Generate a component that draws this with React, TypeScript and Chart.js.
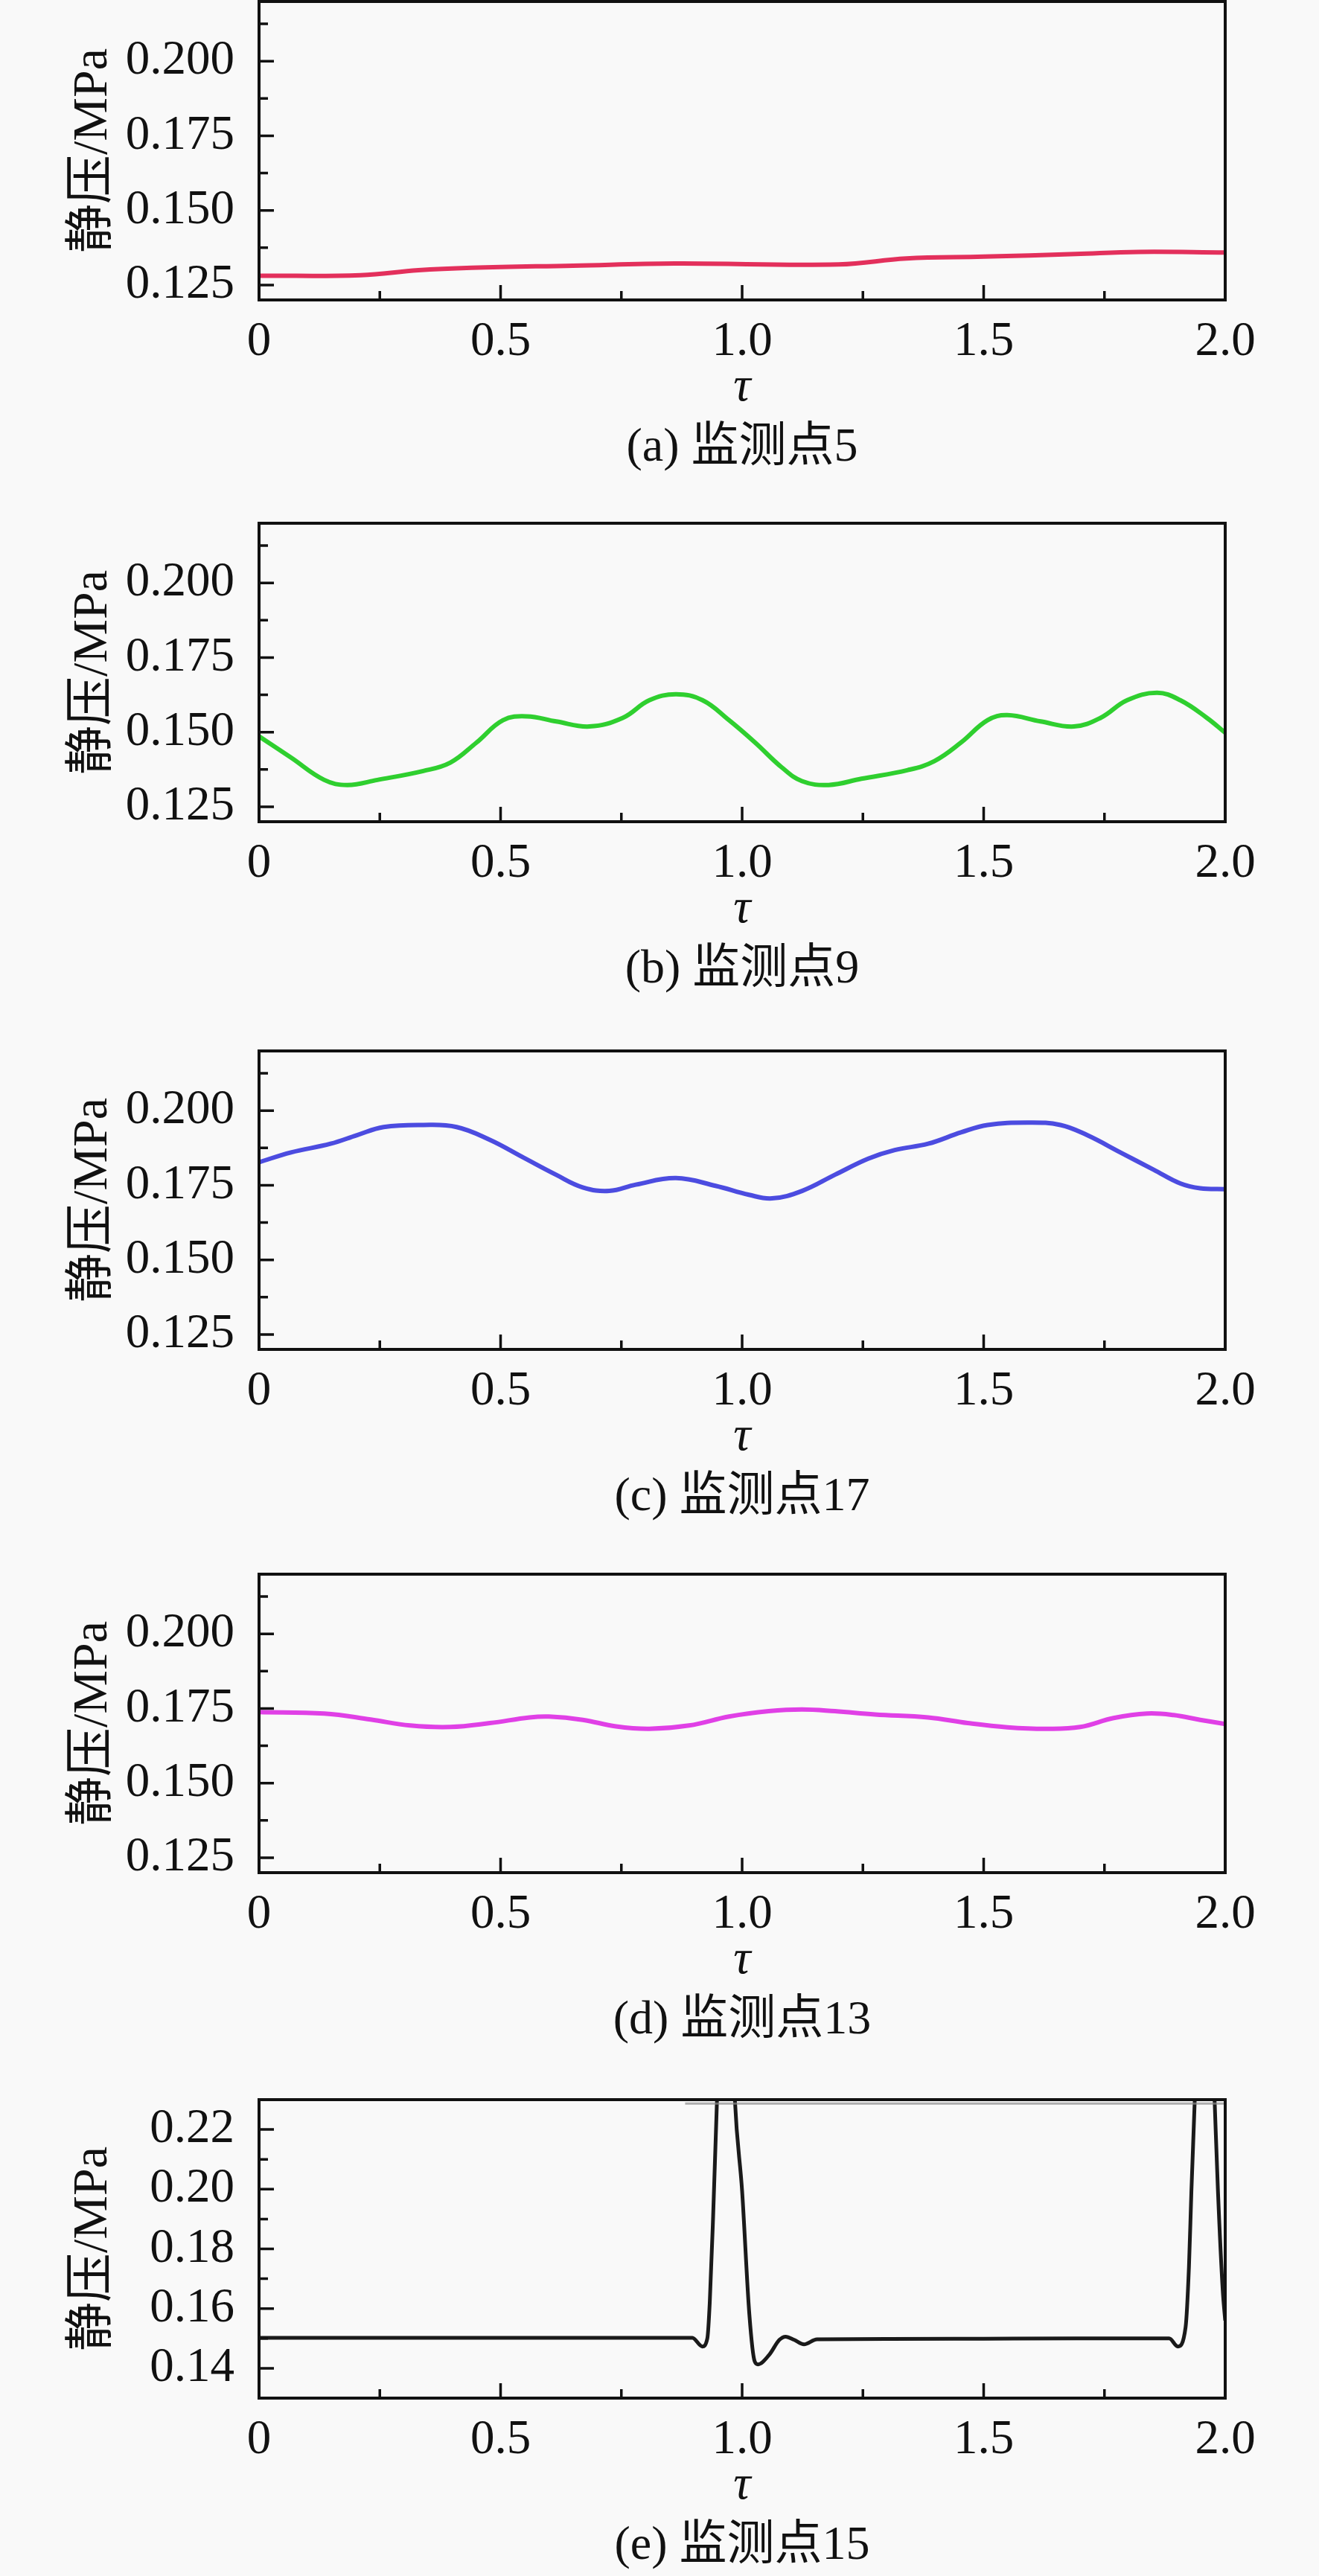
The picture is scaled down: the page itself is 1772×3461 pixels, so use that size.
import { useEffect, useRef } from "react";
import { Chart, registerables } from "chart.js";

Chart.register(...registerables);

// values (tau vs static pressure, MPa)
const tauA = [0, 0.21, 0.33, 0.44, 0.65, 0.86, 1.2, 1.34, 1.5, 1.69, 1.82, 2.0];
const pressA = [0.1281, 0.1283, 0.13, 0.1308, 0.1315, 0.1322, 0.1319, 0.1339, 0.1345, 0.1354, 0.1361, 0.1359];

const tauB = [0, 0.066, 0.135, 0.183, 0.245, 0.34, 0.396, 0.45, 0.505, 0.554, 0.615, 0.684, 0.753, 0.808, 0.863, 0.918, 0.973, 1.027, 1.082, 1.124, 1.179, 1.247, 1.343, 1.398, 1.453, 1.508, 1.549, 1.618, 1.687, 1.742, 1.797, 1.859, 1.907, 1.962, 2.0];
const pressB = [0.1486, 0.1415, 0.134, 0.1323, 0.134, 0.137, 0.1398, 0.1465, 0.154, 0.1553, 0.1536, 0.1519, 0.1548, 0.1607, 0.1627, 0.1607, 0.154, 0.1465, 0.1382, 0.1336, 0.1323, 0.1344, 0.1373, 0.1403, 0.1465, 0.154, 0.1557, 0.1536, 0.1519, 0.1548, 0.1607, 0.1632, 0.1607, 0.1548, 0.1498];

const tauC = [0, 0.066, 0.148, 0.203, 0.258, 0.34, 0.409, 0.478, 0.547, 0.615, 0.67, 0.725, 0.78, 0.863, 0.945, 1.014, 1.062, 1.124, 1.192, 1.261, 1.316, 1.385, 1.453, 1.508, 1.59, 1.659, 1.714, 1.783, 1.852, 1.907, 1.948, 2.0];
const pressC = [0.1827, 0.186, 0.1889, 0.1918, 0.1945, 0.1952, 0.1945, 0.1902, 0.1843, 0.1785, 0.1743, 0.1731, 0.1752, 0.1774, 0.1748, 0.1718, 0.1706, 0.1731, 0.1785, 0.1839, 0.1868, 0.1889, 0.1927, 0.1952, 0.196, 0.1952, 0.1918, 0.186, 0.1802, 0.1756, 0.174, 0.1737];

const tauD = [0, 0.135, 0.231, 0.313, 0.396, 0.478, 0.56, 0.6, 0.67, 0.739, 0.808, 0.89, 0.973, 1.055, 1.124, 1.192, 1.275, 1.385, 1.467, 1.549, 1.632, 1.7, 1.769, 1.838, 1.893, 1.948, 2.0];
const pressD = [0.1738, 0.1733, 0.1713, 0.1693, 0.1688, 0.1701, 0.172, 0.1723, 0.1712, 0.169, 0.1682, 0.1693, 0.1723, 0.1741, 0.1747, 0.1741, 0.173, 0.172, 0.1701, 0.1687, 0.1682, 0.1688, 0.1718, 0.1733, 0.1728, 0.1712, 0.1698];

const tauE = [0, 0.897, 0.9175, 0.928, 0.933, 0.94, 0.948, 0.958, 0.966, 0.976, 0.985, 1.0, 1.015, 1.026, 1.033, 1.056, 1.077, 1.09, 1.108, 1.128, 1.155, 1.3, 1.5, 1.7, 1.884, 1.902, 1.918, 1.925, 1.93, 1.937, 1.948, 1.957, 1.968, 1.978, 1.985, 1.995, 2.0];
const pressE = [0.1502, 0.1502, 0.1473, 0.150, 0.162, 0.191, 0.23, 0.285, 0.292, 0.272, 0.23, 0.1993, 0.158, 0.1423, 0.1413, 0.1445, 0.1495, 0.1506, 0.1495, 0.148, 0.1497, 0.1498, 0.1499, 0.150, 0.150, 0.1473, 0.1538, 0.1742, 0.1993, 0.23, 0.285, 0.292, 0.272, 0.23, 0.1993, 0.1658, 0.156];
// faint grey trace just under the top frame of panel (e)
const tauETop = [0.882, 2.0];
const pressETop = [0.2287, 0.2287];

const xMajor = [0, 0.5, 1.0, 1.5, 2.0];
const xMinor = [0.25, 0.75, 1.25, 1.75];
const yMajorAD = [0.125, 0.15, 0.175, 0.2];
const yMinorAD = [0.1375, 0.1625, 0.1875, 0.2125];
const yMajorE = [0.14, 0.16, 0.18, 0.2, 0.22];
const yMinorE = [0.15, 0.17, 0.19, 0.21];

const SERIF = '"Liberation Serif", "Noto Sans CJK SC", serif';

const frameTicks = {
  id: "frameTicks",
  afterDatasetsDraw(chart: any, _args: any, opts: any) {
    const { ctx, chartArea, scales } = chart;
    const { left, right, top, bottom } = chartArea;
    ctx.save();
    ctx.strokeStyle = "#111";
    ctx.lineWidth = 3.5;
    ctx.beginPath();
    for (const v of opts.xMajor) {
      const px = scales.x.getPixelForValue(v);
      ctx.moveTo(px, bottom);
      ctx.lineTo(px, bottom - 20);
    }
    for (const v of opts.xMinor) {
      const px = scales.x.getPixelForValue(v);
      ctx.moveTo(px, bottom);
      ctx.lineTo(px, bottom - 12);
    }
    for (const v of opts.yMajor) {
      const py = scales.y.getPixelForValue(v);
      ctx.moveTo(left, py);
      ctx.lineTo(left + 20, py);
    }
    for (const v of opts.yMinor) {
      const py = scales.y.getPixelForValue(v);
      ctx.moveTo(left, py);
      ctx.lineTo(left + 12, py);
    }
    ctx.stroke();
    ctx.lineWidth = 4;
    ctx.strokeRect(left, top, right - left, bottom - top);
    ctx.restore();
  },
};

interface Series {
  tau: number[];
  press: number[];
  color: string;
  width: number;
  smooth: "monotone" | "spline";
}

interface PanelProps {
  top: number;
  series: Series[];
  yMin: number;
  yMax: number;
  yMajor: number[];
  yMinor: number[];
  decimals: number;
  caption: string;
}

function Panel({ top, series, yMin, yMax, yMajor, yMinor, decimals, caption }: PanelProps) {
  const canvasRef = useRef<HTMLCanvasElement>(null);

  useEffect(() => {
    const ctx = canvasRef.current?.getContext("2d");
    if (!ctx) return;
    const chart = new Chart(ctx, {
      type: "line",
      data: {
        datasets: series.map((s) => ({
          data: s.tau.map((t, i) => ({ x: t, y: s.press[i] })),
          borderColor: s.color,
          borderWidth: s.width,
          pointRadius: 0,
          cubicInterpolationMode: s.smooth === "monotone" ? "monotone" : "default",
          tension: s.smooth === "monotone" ? 0 : 0.4,
          fill: false,
        })),
      },
      options: {
        animation: false,
        responsive: false,
        layout: { padding: { left: 0, right: 126, top: 2, bottom: 0 } },
        plugins: {
          legend: { display: false },
          tooltip: { enabled: false },
          frameTicks: { xMajor, xMinor, yMajor, yMinor },
        } as any,
        scales: {
          x: {
            type: "linear",
            min: 0,
            max: 2,
            grid: { display: false },
            border: { display: false },
            afterBuildTicks: (s: any) => {
              s.ticks = xMajor.map((value) => ({ value }));
            },
            afterFit: (s: any) => {
              s.height = 297;
              s.paddingLeft = 0;
              s.paddingRight = 0;
            },
            ticks: {
              autoSkip: false,
              maxRotation: 0,
              padding: 10,
              color: "#111",
              font: { family: SERIF, size: 65 },
              callback: (v: any) => (v === 0 ? "0" : Number(v).toFixed(1)),
            },
            title: {
              display: true,
              text: "τ",
              color: "#111",
              font: { family: SERIF, size: 65, style: "italic" },
              padding: { top: 0, bottom: 140 },
            },
          },
          y: {
            type: "linear",
            min: yMin,
            max: yMax,
            grid: { display: false },
            border: { display: false },
            afterBuildTicks: (s: any) => {
              s.ticks = yMajor.map((value) => ({ value }));
            },
            afterFit: (s: any) => {
              s.width = 348;
              s.paddingTop = 0;
              s.paddingBottom = 0;
            },
            ticks: {
              autoSkip: false,
              padding: 25,
              color: "#111",
              font: { family: SERIF, size: 65 },
              callback: (v: any) => Number(v).toFixed(decimals),
            },
            title: {
              display: true,
              text: "静压/MPa",
              color: "#111",
              font: { family: SERIF, size: 66 },
              padding: { top: 86, bottom: 0 },
            },
          },
        },
      },
      plugins: [frameTicks],
    });
    return () => chart.destroy();
  }, [series, yMin, yMax, yMajor, yMinor, decimals]);

  return (
    <div style={{ position: "absolute", left: 0, top: top - 2, width: 1772, height: 700 }}>
      <canvas ref={canvasRef} width={1772} height={700} style={{ width: 1772, height: 700 }} />
      <div
        style={{
          position: "absolute",
          left: 597,
          width: 800,
          top: 566,
          textAlign: "center",
          fontFamily: SERIF,
          fontSize: 64,
          lineHeight: "64px",
          color: "#111",
        }}
      >
        {caption}
      </div>
    </div>
  );
}

const seriesA: Series[] = [{ tau: tauA, press: pressA, color: "#e3305c", width: 6, smooth: "spline" }];
const seriesB: Series[] = [{ tau: tauB, press: pressB, color: "#2fcf2f", width: 6, smooth: "spline" }];
const seriesC: Series[] = [{ tau: tauC, press: pressC, color: "#4c4ce0", width: 6, smooth: "spline" }];
const seriesD: Series[] = [{ tau: tauD, press: pressD, color: "#e040e6", width: 6, smooth: "spline" }];
const seriesE: Series[] = [
  { tau: tauETop, press: pressETop, color: "rgba(140,140,140,0.7)", width: 3, smooth: "monotone" },
  { tau: tauE, press: pressE, color: "#1a1a1a", width: 5, smooth: "monotone" },
];

export default function App() {
  useEffect(() => {
    document.body.style.margin = "0";
    document.body.style.background = "#f9f9f9";
  }, []);

  return (
    <div style={{ position: "relative", width: 1772, height: 3461, overflow: "hidden", background: "#f9f9f9" }}>
      <Panel top={2} series={seriesA} yMin={0.12} yMax={0.22} yMajor={yMajorAD} yMinor={yMinorAD} decimals={3} caption="(a) 监测点5" />
      <Panel top={703} series={seriesB} yMin={0.12} yMax={0.22} yMajor={yMajorAD} yMinor={yMinorAD} decimals={3} caption="(b) 监测点9" />
      <Panel top={1412} series={seriesC} yMin={0.12} yMax={0.22} yMajor={yMajorAD} yMinor={yMinorAD} decimals={3} caption="(c) 监测点17" />
      <Panel top={2115} series={seriesD} yMin={0.12} yMax={0.22} yMajor={yMajorAD} yMinor={yMinorAD} decimals={3} caption="(d) 监测点13" />
      <Panel top={2821} series={seriesE} yMin={0.13} yMax={0.23} yMajor={yMajorE} yMinor={yMinorE} decimals={2} caption="(e) 监测点15" />
    </div>
  );
}
